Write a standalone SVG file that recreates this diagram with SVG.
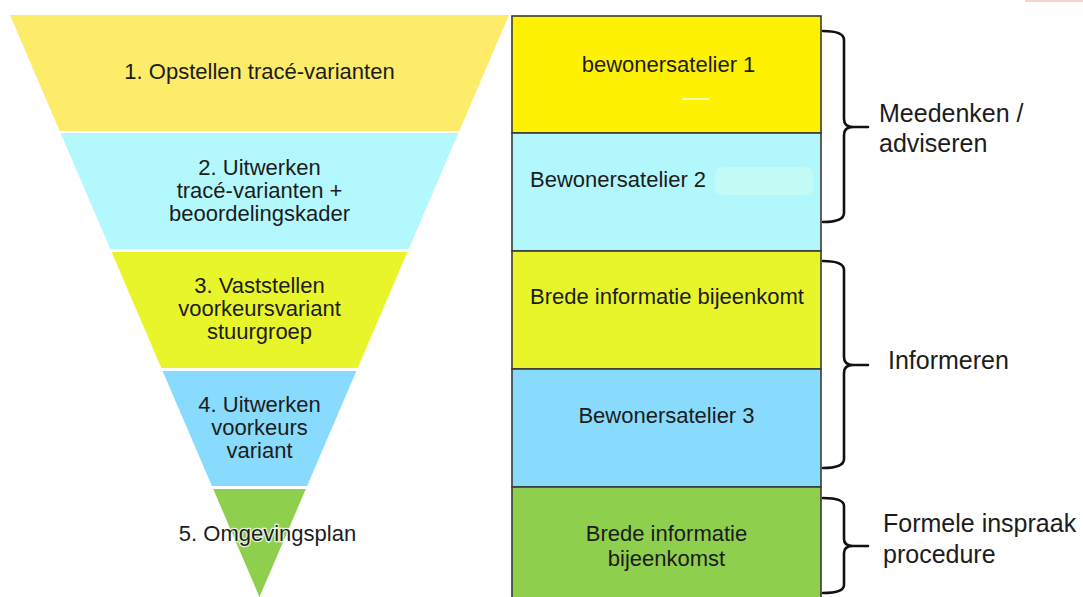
<svg xmlns="http://www.w3.org/2000/svg" width="1083" height="597" viewBox="0 0 1083 597">
<style>
text{font-family:"Liberation Sans",Arial,sans-serif;fill:#1c1c1c}
.t{font-size:22px;text-anchor:middle}
.lab{font-size:25px}
.box{stroke:#3a3a3a;stroke-width:1.6}
.brace{fill:none;stroke:#111;stroke-width:2.6;stroke-linejoin:round;stroke-linecap:round}
</style>
<rect width="1083" height="597" fill="#fff"/>
<rect x="1025" y="0" width="58" height="2" fill="#F6D6C9"/>
<g id="funnel">
<g id="step1"><polygon points="10,15 509,15 459.3,131 59.7,131" fill="#FDEB6A"/><text class="t" x="259.5" y="79">1. Opstellen tracé-varianten</text></g>
<g id="step2"><polygon points="60.6,133 458.4,133 408.7,249 110.3,249" fill="#B3F8FD"/><text class="t" x="259.5" y="175">2. Uitwerken</text><text class="t" x="259.5" y="198">tracé-varianten +</text><text class="t" x="259.5" y="221">beoordelingskader</text></g>
<g id="step3"><polygon points="111.6,252 407.4,252 357.7,368 161.3,368" fill="#E9F52B"/><text class="t" x="259.5" y="293">3. Vaststellen</text><text class="t" x="259.5" y="316">voorkeursvariant</text><text class="t" x="259.5" y="339">stuurgroep</text></g>
<g id="step4"><polygon points="162.6,371 356.4,371 307.1,486 211.9,486" fill="#89DBFD"/><text class="t" x="259.5" y="412">4. Uitwerken</text><text class="t" x="259.5" y="435">voorkeurs</text><text class="t" x="259.5" y="458">variant</text></g>
<g id="step5"><polygon points="213.2,489 305.8,489 259.5,597" fill="#8FCF4E"/><text class="t" x="267.5" y="541" stroke="#fff" stroke-width="2.5" stroke-opacity="0.8" paint-order="stroke">5. Omgevingsplan</text></g>
</g>
<g id="boxes">
<g id="box1"><rect class="box" x="512" y="16" width="309" height="117" fill="#FFF200"/><rect x="682" y="98" width="27" height="2" fill="#FFF9B0"/><text class="t" x="668.5" y="72">bewonersatelier 1</text></g>
<g id="box2"><rect class="box" x="512" y="133" width="309" height="118" fill="#B2F7FC"/><rect x="715" y="167" width="98" height="28" rx="6" fill="#C2FAF6"/><text x="530" y="187" style="font-size:22px">Bewonersatelier 2</text></g>
<g id="box3"><rect class="box" x="512" y="251" width="309" height="118" fill="#E8F52A"/><text class="t" x="667" y="304">Brede informatie bijeenkomt</text></g>
<g id="box4"><rect class="box" x="512" y="369" width="309" height="118" fill="#89DBFD"/><text class="t" x="666.5" y="423">Bewonersatelier 3</text></g>
<g id="box5"><rect class="box" x="512" y="487" width="309" height="120" fill="#8FCF4E"/><text class="t" x="666.5" y="541">Brede informatie</text><text class="t" x="666.5" y="566">bijeenkomst</text></g>
</g>
<g id="connectors">
<path class="brace" d="M823,31 Q844,31 844,40 L844,119 Q844,127 853,127 L868,127 M853,127 Q844,127 844,135 L844,213 Q844,222 823,222"/>
<path class="brace" d="M823,261 Q844,261 844,270 L844,357 Q844,365 853,365 L868,365 M853,365 Q844,365 844,373 L844,459 Q844,468 823,468"/>
<path class="brace" d="M823,498 Q844,498 844,506 L844,539 Q844,546 853,546 L868,546 M853,546 Q844,546 844,553 L844,585 Q844,593 823,593"/>
</g>
<g id="labels">
<g id="lab1"><text class="lab" x="879" y="122">Meedenken /</text><text class="lab" x="879" y="152">adviseren</text></g>
<g id="lab2"><text class="lab" x="888" y="369">Informeren</text></g>
<g id="lab3"><text class="lab" x="883" y="532">Formele inspraak</text><text class="lab" x="883" y="563">procedure</text></g>
</g>
</svg>
